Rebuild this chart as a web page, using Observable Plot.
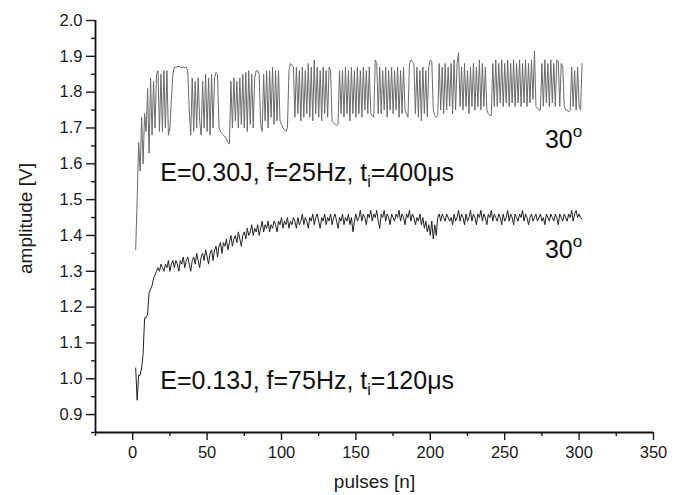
<!DOCTYPE html>
<html>
<head>
<meta charset="utf-8">
<script src="https://cdn.jsdelivr.net/npm/d3@7"></script>
<script src="https://cdn.jsdelivr.net/npm/@observablehq/plot@0.6"></script>
<style>
  html, body { margin: 0; padding: 0; background: #fff; }
  #chart { width: 680px; height: 495px; }
</style>
</head>
<body>
<div id="chart"></div>
<script>
// First pulse number of both series (one value per pulse after it)
const firstPulse = 2;

// Upper series: E=0.30J, f=25Hz, ti=400us
const upperAmp = [
  1.36,1.50,1.66,1.58,1.73,1.60,1.74,1.69,1.81,1.63,
  1.84,1.68,1.83,1.70,1.85,1.86,1.69,1.85,1.69,1.86,
  1.70,1.86,1.68,1.70,1.78,1.85,1.87,1.87,1.87,1.872,
  1.87,1.868,1.87,1.868,1.87,1.86,1.75,1.68,1.84,1.69,
  1.83,1.70,1.84,1.72,1.68,1.83,1.70,1.85,1.69,1.84,
  1.68,1.85,1.70,1.84,1.855,1.85,1.70,1.69,1.685,1.68,
  1.675,1.67,1.66,1.655,1.83,1.70,1.84,1.72,1.83,1.70,
  1.84,1.71,1.85,1.70,1.855,1.69,1.86,1.71,1.85,1.70,
  1.84,1.86,1.86,1.85,1.71,1.69,1.85,1.72,1.86,1.70,
  1.86,1.73,1.87,1.71,1.86,1.72,1.86,1.72,1.71,1.70,
  1.695,1.69,1.70,1.86,1.88,1.875,1.87,1.73,1.87,1.74,
  1.86,1.72,1.87,1.73,1.86,1.74,1.88,1.73,1.87,1.72,
  1.89,1.74,1.87,1.73,1.86,1.72,1.87,1.74,1.86,1.73,
  1.87,1.86,1.72,1.715,1.71,1.707,1.71,1.86,1.74,1.86,
  1.73,1.87,1.74,1.86,1.72,1.87,1.74,1.86,1.73,1.87,
  1.74,1.86,1.73,1.87,1.75,1.86,1.74,1.87,1.74,1.735,
  1.73,1.89,1.88,1.74,1.87,1.74,1.86,1.75,1.87,1.73,
  1.86,1.75,1.87,1.74,1.86,1.75,1.87,1.73,1.86,1.74,
  1.87,1.75,1.74,1.73,1.88,1.89,1.885,1.88,1.74,1.87,
  1.73,1.86,1.72,1.87,1.74,1.86,1.73,1.87,1.89,1.885,
  1.75,1.735,1.73,1.735,1.88,1.75,1.87,1.74,1.88,1.75,
  1.87,1.76,1.88,1.74,1.89,1.75,1.88,1.91,1.76,1.87,
  1.75,1.88,1.76,1.86,1.74,1.87,1.76,1.88,1.75,1.87,
  1.76,1.89,1.75,1.88,1.76,1.87,1.75,1.74,1.735,1.735,
  1.88,1.76,1.89,1.76,1.88,1.77,1.89,1.76,1.88,1.77,
  1.89,1.76,1.88,1.77,1.89,1.76,1.88,1.77,1.89,1.76,
  1.88,1.77,1.89,1.76,1.88,1.77,1.89,1.78,1.915,1.76,
  1.755,1.75,1.75,1.88,1.76,1.89,1.77,1.88,1.76,1.89,
  1.77,1.88,1.76,1.89,1.885,1.76,1.88,1.87,1.76,1.75,
  1.75,1.745,1.75,1.87,1.76,1.86,1.75,1.87,1.76,1.75,
  1.88
];

// Lower series: E=0.13J, f=75Hz, ti=120us
const lowerAmp = [
  1.03,0.94,1.01,1.01,1.03,1.07,1.17,1.17,1.18,1.24,
  1.25,1.26,1.28,1.29,1.30,1.31,1.30,1.32,1.31,1.30,
  1.32,1.31,1.33,1.30,1.32,1.33,1.31,1.33,1.32,1.30,
  1.33,1.32,1.34,1.31,1.33,1.34,1.32,1.30,1.33,1.34,
  1.32,1.35,1.33,1.31,1.34,1.35,1.33,1.36,1.34,1.32,
  1.35,1.36,1.33,1.36,1.37,1.34,1.37,1.38,1.35,1.38,
  1.37,1.39,1.36,1.38,1.40,1.37,1.39,1.40,1.38,1.41,
  1.39,1.37,1.40,1.41,1.39,1.42,1.40,1.41,1.43,1.40,
  1.42,1.41,1.43,1.40,1.42,1.44,1.41,1.43,1.42,1.44,
  1.41,1.43,1.42,1.44,1.43,1.41,1.44,1.43,1.45,1.42,
  1.44,1.43,1.45,1.42,1.44,1.43,1.45,1.44,1.42,1.45,
  1.43,1.44,1.46,1.43,1.45,1.44,1.42,1.45,1.44,1.46,
  1.43,1.45,1.46,1.44,1.42,1.45,1.44,1.46,1.43,1.45,
  1.44,1.46,1.43,1.45,1.46,1.44,1.42,1.45,1.44,1.46,
  1.43,1.45,1.44,1.46,1.43,1.45,1.41,1.44,1.46,1.44,
  1.45,1.47,1.44,1.46,1.45,1.43,1.46,1.45,1.47,1.44,
  1.46,1.45,1.47,1.44,1.42,1.46,1.45,1.47,1.44,1.46,
  1.45,1.43,1.46,1.45,1.44,1.46,1.45,1.47,1.44,1.46,
  1.45,1.43,1.46,1.45,1.47,1.44,1.46,1.45,1.43,1.45,
  1.44,1.46,1.43,1.45,1.42,1.44,1.41,1.43,1.40,1.44,
  1.39,1.43,1.40,1.45,1.46,1.44,1.46,1.45,1.44,1.46,
  1.45,1.44,1.45,1.43,1.46,1.44,1.45,1.47,1.44,1.46,
  1.45,1.43,1.46,1.44,1.45,1.47,1.44,1.46,1.45,1.43,
  1.46,1.45,1.47,1.44,1.46,1.45,1.43,1.46,1.45,1.47,
  1.44,1.46,1.45,1.44,1.46,1.45,1.43,1.46,1.44,1.45,
  1.47,1.44,1.46,1.45,1.43,1.46,1.45,1.44,1.46,1.45,
  1.47,1.44,1.46,1.45,1.43,1.45,1.46,1.44,1.45,1.46,
  1.44,1.45,1.46,1.44,1.45,1.43,1.46,1.45,1.44,1.46,
  1.45,1.44,1.46,1.45,1.43,1.46,1.45,1.44,1.46,1.45,
  1.44,1.46,1.45,1.47,1.44,1.46,1.47,1.45,1.46,1.45,
  1.445
];

// Axis ticks and titles
const xMajor = [0, 50, 100, 150, 200, 250, 300, 350];
const xMinor = [-25, 25, 75, 125, 175, 225, 275, 325];
const yMajor = [0.9, 1.0, 1.1, 1.2, 1.3, 1.4, 1.5, 1.6, 1.7, 1.8, 1.9, 2.0];
const yMinor = [0.85, 0.95, 1.05, 1.15, 1.25, 1.35, 1.45, 1.55, 1.65, 1.75, 1.85, 1.95];
const xDomain = [-25, 350];
const yDomain = [0.85, 2.0];
const xTitle = ["pulses [n]"];
const yTitle = ["amplitude [V]"];

// Annotations ("_i" = subscript i, "^o" = superscript o)
const conditionLabels = [
  {x: 18.5, y: 1.553, text: "E=0.30J, f=25Hz, t_i=400μs"},
  {x: 18.5, y: 0.972, text: "E=0.13J, f=75Hz, t_i=120μs"}
];
const angleLabels = [
  {x: 277, y: 1.645, text: "30^o"},
  {x: 277, y: 1.338, text: "30^o"}
];

const upperData = upperAmp.map((v, i) => ({pulse: firstPulse + i, amp: v}));
const lowerData = lowerAmp.map((v, i) => ({pulse: firstPulse + i, amp: v}));

const font = "'Liberation Sans', Arial, Helvetica, sans-serif";

const plot = Plot.plot({
  width: 680,
  height: 495,
  marginLeft: 95,
  marginRight: 27,
  marginTop: 20,
  marginBottom: 63,
  style: {fontFamily: font, fontSize: "16px", color: "#1a1a1a", background: "#fff", overflow: "visible"},
  x: {domain: xDomain},
  y: {domain: yDomain},
  marks: [
    Plot.axisY({ticks: yMinor, tickSize: 4, tickFormat: () => "", strokeWidth: 1.4, label: null}),
    Plot.axisY({ticks: yMajor, tickSize: 9, tickPadding: 4, tickFormat: d3.format(".1f"), strokeWidth: 1.4,
      fontSize: 16.5, label: null}),
    Plot.axisX({ticks: xMinor, tickSize: 4, tickFormat: () => "", strokeWidth: 1.4, label: null}),
    Plot.axisX({ticks: xMajor, tickSize: 8, tickPadding: 6, tickFormat: d3.format("d"), strokeWidth: 1.4,
      fontSize: 16.5, label: null}),
    Plot.ruleX([xDomain[0]], {stroke: "#111", strokeWidth: 1.8}),
    Plot.ruleY([yDomain[0]], {stroke: "#111", strokeWidth: 1.8}),
    Plot.text(xTitle, {text: d => d, frameAnchor: "bottom", dy: 55, lineAnchor: "bottom",
      fontSize: 19, fill: "#1a1a1a"}),
    Plot.text(yTitle, {text: d => d, frameAnchor: "left", dx: -70, dy: -8, rotate: -90,
      lineAnchor: "middle", textAnchor: "middle", fontSize: 19, fill: "#1a1a1a"}),
    Plot.line(upperData, {x: "pulse", y: "amp", stroke: "#6a6a6a", strokeWidth: 1}),
    Plot.line(lowerData, {x: "pulse", y: "amp", stroke: "#222", strokeWidth: 1}),
    Plot.text(conditionLabels, {x: "x", y: "y", text: "text", textAnchor: "start", lineAnchor: "bottom",
      fontSize: 25, fill: "#111"}),
    Plot.text(angleLabels, {x: "x", y: "y", text: "text", textAnchor: "start", lineAnchor: "bottom",
      fontSize: 25, fill: "#111"})
  ]
});

// turn "_i" and "^o" into real sub/superscript tspans
const NS = "http://www.w3.org/2000/svg";
plot.querySelectorAll("text").forEach(el => {
  const t = el.textContent;
  let m, parts = null;
  if (t.includes("_")) { m = t.split("_"); parts = [[m[0], null, 0], [m[1][0], 16, 6], [m[1].slice(1), null, -6]]; }
  else if (t.includes("^")) { m = t.split("^"); parts = [[m[0], null, 0], [m[1], 17, -11]]; }
  if (!parts) return;
  while (el.firstChild) el.removeChild(el.firstChild);
  parts.forEach(([s, fs, dy]) => {
    const ts = document.createElementNS(NS, "tspan");
    ts.textContent = s;
    if (fs) ts.setAttribute("font-size", fs);
    if (dy) ts.setAttribute("dy", dy);
    el.appendChild(ts);
  });
});

document.getElementById("chart").appendChild(plot);
</script>
</body>
</html>
